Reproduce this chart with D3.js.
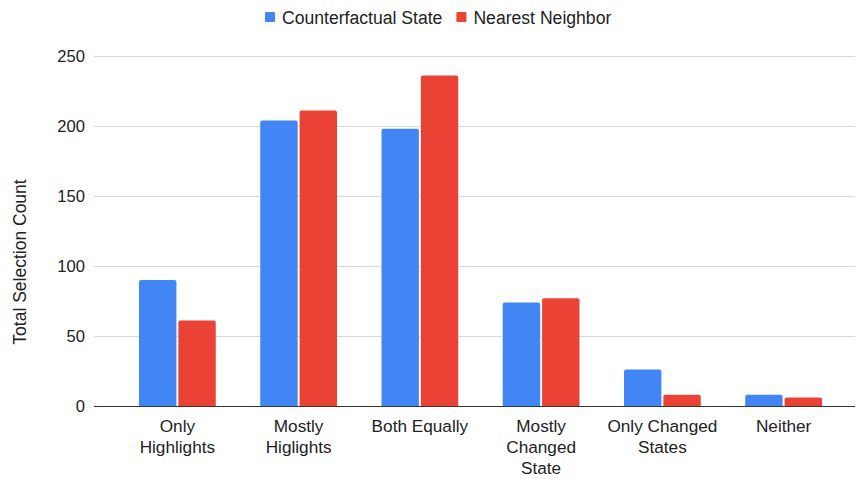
<!DOCTYPE html>
<html>
<head>
<meta charset="utf-8">
<script src="https://cdn.jsdelivr.net/npm/d3@7"></script>
<style>
  html, body { margin: 0; padding: 0; background: #fff; }
  svg { display: block; font-family: "Liberation Sans", Arial, sans-serif; }
</style>
</head>
<body>
<svg id="chart" width="856" height="479"></svg>
<script>
// Categories (multi-line x labels) and series values
const categories = ["Only Highlights", "Mostly Higlights", "Both Equally", "Mostly Changed State", "Only Changed States", "Neither"];
const categoryLines = [["Only", "Highlights"], ["Mostly", "Higlights"], ["Both Equally"], ["Mostly", "Changed", "State"], ["Only Changed", "States"], ["Neither"]];
const seriesNames = ["Counterfactual State", "Nearest Neighbor"];
const counterfactualState = [90, 204, 198, 74, 26, 8];
const nearestNeighbor = [61, 211, 236, 77, 8, 6];
const yTicks = [0, 50, 100, 150, 200, 250];
const yTitle = "Total Selection Count";
const colors = ["#4285F4", "#EA4335"];

const seriesValues = [counterfactualState, nearestNeighbor];
const svg = d3.select("#chart");

const TEXT_COLOR = "#222";

const plot = { left: 94, right: 855, top: 56, bottom: 406 };

const y = d3.scaleLinear().domain([0, 250]).range([plot.bottom, plot.top]);
const x0 = d3.scaleBand().domain(categories).range([139, 822]).paddingInner(0.367).paddingOuter(0);
const x1 = d3.scaleBand().domain(seriesNames).range([0, x0.bandwidth()]).paddingInner(0.05);

// Gridlines
svg.append("g")
  .selectAll("line")
  .data(yTicks.filter(t => t !== 0))
  .join("line")
  .attr("x1", plot.left).attr("x2", plot.right)
  .attr("y1", d => y(d) + 0.5).attr("y2", d => y(d) + 0.5)
  .attr("stroke", "#d9d9d9").attr("stroke-width", 1);

// Y axis labels
const yAxis = d3.axisLeft(y).tickValues(yTicks).tickSize(0).tickPadding(0);
const gy = svg.append("g").attr("transform", `translate(${plot.left - 9},0)`).call(yAxis);
gy.select(".domain").remove();
gy.selectAll("text")
  .attr("font-size", 16.6).attr("fill", TEXT_COLOR)
  .attr("font-family", "Liberation Sans, Arial, sans-serif")
  .attr("dy", "0.36em");

// Y title
svg.append("text")
  .attr("transform", `translate(26,${(plot.top + plot.bottom) / 2 + 31}) rotate(-90)`)
  .attr("text-anchor", "middle")
  .attr("font-size", 17.5).attr("fill", TEXT_COLOR)
  .text(yTitle);

// Bars with slightly rounded top corners
function barPath(x, yTop, w, h, r) {
  r = Math.min(r, h, w / 2);
  return `M${x},${yTop + h}V${yTop + r}Q${x},${yTop} ${x + r},${yTop}H${x + w - r}Q${x + w},${yTop} ${x + w},${yTop + r}V${yTop + h}Z`;
}

const groups = svg.append("g")
  .selectAll("g")
  .data(categories)
  .join("g")
  .attr("transform", d => `translate(${x0(d)},0)`);

groups.selectAll("path")
  .data((d, i) => seriesNames.map((s, j) => ({ s, j, v: seriesValues[j][i] })))
  .join("path")
  .attr("d", d => barPath(x1(d.s), y(d.v), x1.bandwidth(), plot.bottom - y(d.v), 2))
  .attr("fill", d => colors[d.j]);

// Baseline
svg.append("line")
  .attr("x1", plot.left).attr("x2", plot.right)
  .attr("y1", plot.bottom + 0.5).attr("y2", plot.bottom + 0.5)
  .attr("stroke", "#333").attr("stroke-width", 1);

// X labels
const xl = svg.append("g")
  .selectAll("text")
  .data(categories)
  .join("text")
  .attr("x", d => x0(d) + x0.bandwidth() / 2)
  .attr("y", 432)
  .attr("text-anchor", "middle")
  .attr("font-size", 17.2).attr("fill", TEXT_COLOR);
xl.each(function(d, i) {
  const t = d3.select(this);
  categoryLines[i].forEach((line, k) => {
    t.append("tspan")
      .attr("x", x0(d) + x0.bandwidth() / 2)
      .attr("dy", k === 0 ? 0 : 21)
      .text(line);
  });
});

// Legend
const legend = svg.append("g");
let lx = 265;
seriesNames.forEach((name, j) => {
  legend.append("rect")
    .attr("x", lx).attr("y", 12).attr("width", 10).attr("height", 10)
    .attr("rx", 1)
    .attr("fill", colors[j]);
  const t = legend.append("text")
    .attr("x", lx + 17).attr("y", 23.5)
    .attr("font-size", 17.6).attr("fill", TEXT_COLOR)
    .text(name);
  lx += 17 + t.node().getComputedTextLength() + 14;
});
</script>
</body>
</html>
